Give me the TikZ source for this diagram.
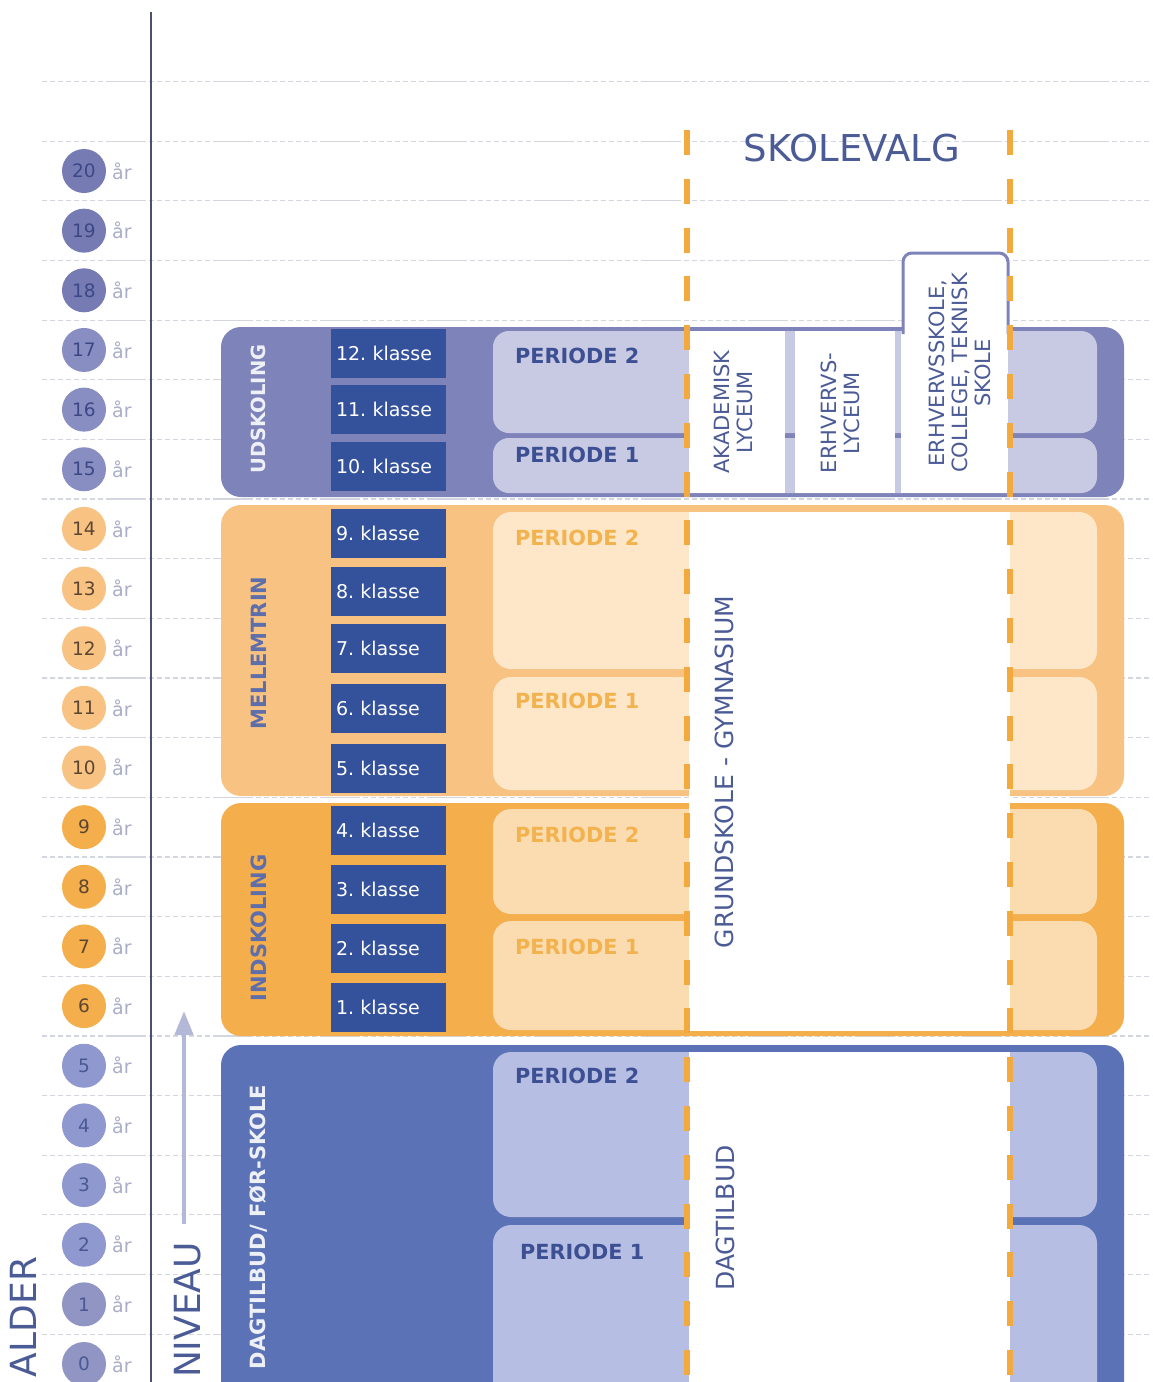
\documentclass[tikz,border=0pt]{standalone}
\usepackage{fontspec}
\setmainfont{DejaVu Sans}
\usetikzlibrary{arrows.meta}
\definecolor{gridc}{HTML}{D3D6DE}
\definecolor{axisc}{HTML}{4A5070}
\definecolor{udband}{HTML}{7E83B9}
\definecolor{udpanel}{HTML}{C8CAE3}
\definecolor{meband}{HTML}{F8C282}
\definecolor{mepanel}{HTML}{FDE7C8}
\definecolor{inband}{HTML}{F4AE4C}
\definecolor{inpanel}{HTML}{FBDCB1}
\definecolor{daband}{HTML}{5B73B6}
\definecolor{dapanel}{HTML}{B6BEE3}
\definecolor{klassec}{HTML}{34519B}
\definecolor{dashor}{HTML}{F2A93E}
\definecolor{slate}{HTML}{4B5B96}
\definecolor{labslate}{HTML}{5E6EAA}
\definecolor{artc}{HTML}{A9AEC9}
\definecolor{pertxt}{HTML}{3D4F93}
\definecolor{perorange}{HTML}{F2B24E}
\definecolor{arrowc}{HTML}{B3B7D8}
\definecolor{agepA}{HTML}{767BB4}
\definecolor{agepB}{HTML}{888DC2}
\definecolor{agept}{HTML}{3C4885}
\definecolor{ageoA}{HTML}{F8C282}
\definecolor{ageoB}{HTML}{F4AE4C}
\definecolor{ageot}{HTML}{5C4632}
\definecolor{agebA}{HTML}{8F98CF}
\definecolor{agebB}{HTML}{9095C4}
\definecolor{agebt}{HTML}{4A5893}
\definecolor{bandtxt}{HTML}{EEF0F8}
\begin{document}
\frenchspacing
\begin{tikzpicture}[x=1pt,y=-1pt,
  gridline/.style={draw=gridc, line width=1.2pt,
    dash pattern=on 5pt off 3pt on 5pt off 3pt on 5pt off 3pt on 5pt off 3pt on 5pt off 3pt on 5pt off 3pt on 5pt off 3pt on 5pt off 3pt on 40pt off 3pt},
  axisline/.style={draw=axisc, line width=1.6pt},
  agec/.style={circle, minimum size=44pt, inner sep=0pt, font=\fontsize{18.5}{18.5}\selectfont},
  artxt/.style={text=artc, font=\fontsize{19}{19}\selectfont, anchor=west, inner sep=0pt},
  klasse/.style={fill=klassec, text=white, minimum height=49pt, text width=105pt, align=left,
    inner xsep=5pt, inner ysep=0pt, font=\fontsize{19}{19}\selectfont\frenchspacing},
  perlabel/.style={anchor=base west, inner sep=0pt, font=\bfseries\fontsize{20.8}{20.8}\selectfont},
  bandlabel/.style={rotate=90, inner sep=0pt, font=\bfseries\fontsize{21}{21}\selectfont},
  odash/.style={draw=dashor, line width=6pt, dash pattern=on 25pt off 23.8pt},
  coltxt/.style={rotate=90, text=slate, align=center, inner sep=0pt, font=\fontsize{21}{23}\selectfont},
  bigtxt/.style={rotate=90, text=slate, inner sep=0pt, font=\fontsize{25}{25}\selectfont},
  axtxt/.style={rotate=90, text=slate, inner sep=0pt, font=\fontsize{36}{36}\selectfont},
  niveauarrow/.style={draw=arrowc, line width=4.5pt, -{Triangle[width=18pt,length=24pt]}}
]
\clip (0,0) rectangle (1152,1382);
\fill[white] (0,0) rectangle (1152,1382);

% horizontal grid lines
\foreach \a in {0,...,21}{
  \pgfmathsetmacro{\yy}{1364-59.65*(\a+0.5)}
  \draw[gridline] (42,\yy) -- (1152,\yy);
}

% vertical axis
\draw[axisline] (151,12) -- (151,1382);

% ages
\foreach \a/\fc/\tc in {20/agepA/agept,19/agepA/agept,18/agepA/agept,17/agepB/agept,16/agepB/agept,15/agepB/agept,
  14/ageoA/ageot,13/ageoA/ageot,12/ageoA/ageot,11/ageoA/ageot,10/ageoA/ageot,
  9/ageoB/ageot,8/ageoB/ageot,7/ageoB/ageot,6/ageoB/ageot,
  5/agebA/agebt,4/agebA/agebt,3/agebA/agebt,2/agebA/agebt,1/agebB/agebt,0/agebB/agebt}{
  \pgfmathsetmacro{\yy}{1364-59.65*\a}
  \node[agec, fill=\fc, text=\tc] (age\a) at (84,\yy) {\a};
  \node[artxt] (ar\a) at (112,\yy) {år};
}

% axis titles
\node[axtxt] (alder) at (23,1317) {ALDER};
\node[axtxt] (niveau) at (188,1310) {NIVEAU};
\coordinate (arrS) at (184,1224);
\coordinate (arrE) at (184,1011);
\draw[niveauarrow] (arrS) -- (arrE);

% ---- bands ----
% Udskoling
\fill[udband, rounded corners=20] (221,327) rectangle (1124,497);
\fill[udpanel, rounded corners=16] (493,331) rectangle (1097,433);
\fill[udpanel, rounded corners=16] (493,438) rectangle (1097,493);
% Mellemtrin
\fill[meband, rounded corners=20] (221,505) rectangle (1124,796);
\fill[mepanel, rounded corners=18] (493,512) rectangle (1097,669);
\fill[mepanel, rounded corners=18] (493,677) rectangle (1097,790);
% Indskoling
\fill[inband, rounded corners=20] (221,803) rectangle (1124,1036);
\fill[inpanel, rounded corners=18] (493,809) rectangle (1097,914);
\fill[inpanel, rounded corners=18] (493,921) rectangle (1097,1030);
% Dagtilbud
\fill[daband, rounded corners=20] (221,1045) rectangle (1124,1430);
\fill[dapanel, rounded corners=18] (493,1052) rectangle (1097,1217);
\fill[dapanel, rounded corners=18] (493,1225) rectangle (1097,1430);

% white school-choice columns
\fill[white] (689,331) rectangle (785,493);
\fill[white] (795,331) rectangle (895,493);
\fill[white] (901,331) rectangle (1008,493);
\filldraw[fill=white, draw=udband, line width=3pt, rounded corners=9]
  (903,334) -- (903,253) -- (1008,253) -- (1008,334);
\fill[white] (689,512) rectangle (1010,1031);
\fill[white] (689,1052) rectangle (1010,1430);

% klasse boxes
\node[klasse] (k12) at (388.5,353.5) {12. klasse};
\node[klasse] (k11) at (388.5,409.5) {11. klasse};
\node[klasse] (k10) at (388.5,466) {10. klasse};
\node[klasse] (k9) at (388.5,533.5) {9. klasse};
\node[klasse] (k8) at (388.5,591) {8. klasse};
\node[klasse] (k7) at (388.5,648) {7. klasse};
\node[klasse] (k6) at (388.5,708.5) {6. klasse};
\node[klasse] (k5) at (388.5,768.5) {5. klasse};
\node[klasse] (k4) at (388.5,830.5) {4. klasse};
\node[klasse] (k3) at (388.5,889) {3. klasse};
\node[klasse] (k2) at (388.5,948) {2. klasse};
\node[klasse] (k1) at (388.5,1007.5) {1. klasse};

% band labels
\node[bandlabel, text=bandtxt, font=\bfseries\fontsize{19.5}{19.5}\selectfont] (lud) at (258.5,409) {UDSKOLING};
\node[bandlabel, text=labslate] (lme) at (258.5,653) {MELLEMTRIN};
\node[bandlabel, text=labslate] (lin) at (258.5,928) {INDSKOLING};
\node[bandlabel, text=bandtxt] (lda) at (258.5,1227) {DAGTILBUD/ FØR-SKOLE};

% periode labels
\node[perlabel, text=pertxt] (pu2) at (515,363) {PERIODE 2};
\node[perlabel, text=pertxt] (pu1) at (515,462) {PERIODE 1};
\node[perlabel, text=perorange] (pm2) at (515,545) {PERIODE 2};
\node[perlabel, text=perorange] (pm1) at (515,708) {PERIODE 1};
\node[perlabel, text=perorange] (pi2) at (515,842) {PERIODE 2};
\node[perlabel, text=perorange] (pi1) at (515,954) {PERIODE 1};
\node[perlabel, text=pertxt] (pd2) at (515,1083) {PERIODE 2};
\node[perlabel, text=pertxt] (pd1) at (520,1259) {PERIODE 1};

% dashed orange guides
\draw[odash] (687,130) -- (687,1400);
\draw[odash] (1010,130) -- (1010,1400);

% column texts
\node[text=slate, inner sep=0pt, font=\fontsize{37}{37}\selectfont] (skolevalg) at (852,148) {SKOLEVALG};
\node[coltxt] (akad) at (733,412) {AKADEMISK\\LYCEUM};
\node[coltxt] (erhv) at (840,413) {ERHVERVS-\\LYCEUM};
\node[coltxt] (erhvs) at (960,373) {ERHVERVSSKOLE,\\COLLEGE, TEKNISK\\SKOLE};
\node[bigtxt] (grund) at (724,772) {GRUNDSKOLE - GYMNASIUM};
\node[bigtxt] (dagt) at (725,1218) {DAGTILBUD};
\end{tikzpicture}
\end{document}
